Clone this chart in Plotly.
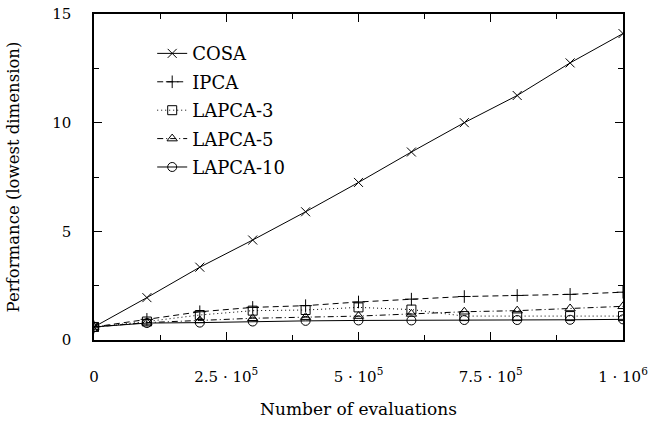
import plotly.graph_objects as go

evaluations = [0, 1e5, 2e5, 3e5, 4e5, 5e5, 6e5, 7e5, 8e5, 9e5, 1e6]
cosa = [0.6, 1.95, 3.35, 4.6, 5.9, 7.25, 8.65, 10.0, 11.25, 12.75, 14.1]
ipca = [0.6, 0.95, 1.3, 1.5, 1.58, 1.75, 1.88, 2.0, 2.05, 2.1, 2.2]
lapca3 = [0.6, 0.85, 1.15, 1.35, 1.38, 1.5, 1.4, 1.1, 1.1, 1.1, 1.1]
lapca5 = [0.6, 0.8, 0.9, 1.0, 1.05, 1.1, 1.2, 1.3, 1.35, 1.45, 1.55]
lapca10 = [0.6, 0.78, 0.8, 0.85, 0.88, 0.9, 0.9, 0.92, 0.92, 0.93, 0.95]

series = [
    ("COSA", cosa, "solid", "x-thin-open"),
    ("IPCA", ipca, "6px,4px", "cross-thin-open"),
    ("LAPCA-3", lapca3, "1px,3px", "square-open"),
    ("LAPCA-5", lapca5, "6px,3px,1px,3px", "triangle-up-open"),
    ("LAPCA-10", lapca10, "solid", "circle-open"),
]

x_tickvals = [0, 2.5e5, 5e5, 7.5e5, 1e6]
x_ticktext = ["0", "2.5 · 10<sup>5</sup>", "5 · 10<sup>5</sup>", "7.5 · 10<sup>5</sup>", "1 · 10<sup>6</sup>"]
y_tickvals = [0, 5, 10, 15]

FONT = "DejaVu Serif"

fig = go.Figure()
for name, ys, dash, sym in series:
    fig.add_trace(go.Scatter(
        x=evaluations, y=ys, name=name, mode="lines+markers",
        line=dict(color="black", width=1, dash=dash),
        marker=dict(symbol=sym, size=9, color="black", line=dict(color="black", width=1)),
        legendgroup=name,
    ))

fig.update_layout(
    width=648, height=425,
    margin=dict(l=94, r=25, t=14, b=85, autoexpand=False),
    plot_bgcolor="white", paper_bgcolor="white",
    font=dict(family=FONT, size=15, color="black"),
    showlegend=True,
    legend=dict(x=0.11, y=0.935, xanchor="left", yanchor="top",
                bgcolor="rgba(0,0,0,0)", font=dict(size=18, family=FONT),
                tracegroupgap=2),
)
fig.update_xaxes(
    range=[0, 1e6], tickvals=x_tickvals, ticktext=x_ticktext,
    ticks="inside", ticklen=8, tickwidth=1, tickcolor="black",
    minor=dict(tickvals=[1.25e5, 3.75e5, 6.25e5, 8.75e5], ticks="inside", ticklen=5, tickcolor="black"),
    showline=True, linecolor="black", linewidth=1.5, mirror="ticks",
    showgrid=False, zeroline=False, automargin=False,
    ticklabelstandoff=22, ticklabeloverflow="allow",
    title=dict(text="Number of evaluations", standoff=18, font=dict(size=17)),
)
fig.update_yaxes(
    range=[0, 15], tickvals=y_tickvals,
    ticks="inside", ticklen=8, tickwidth=1, tickcolor="black",
    minor=dict(tickvals=[2.5, 7.5, 12.5], ticks="inside", ticklen=5, tickcolor="black"),
    showline=True, linecolor="black", linewidth=1.5, mirror="ticks",
    showgrid=False, zeroline=False, automargin=False,
    ticklabelstandoff=18, ticklabeloverflow="allow",
    title=dict(text="Performance (lowest dimension)", standoff=28, font=dict(size=16.5)),
)

fig.write_html("out.html")
